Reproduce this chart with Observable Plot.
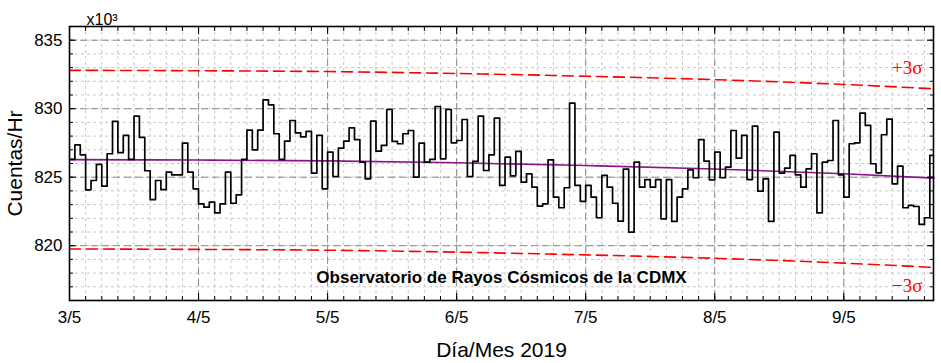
<!DOCTYPE html>
<html><head><meta charset="utf-8">
<script src="https://cdn.jsdelivr.net/npm/d3@7"></script>
<script src="https://cdn.jsdelivr.net/npm/@observablehq/plot@0.6"></script>
<style>html,body{margin:0;padding:0;background:#fff;} #chart svg{display:block}</style>
</head><body><div id="chart"></div>
<script>
// ---- data ----
const startDate = "2019-05-03T00:00Z";
const endDate = "2019-05-09T16:41Z";
// hourly counts (x10^3 / hr)
const counts = [
826.3,827.36,826.63,824.08,824.76,825.93,824.35,826.71,829.07,826.8,
828.05,826.3,829.46,827.9,825.47,823.37,824.76,824.1,825.37,825.17,
825.17,827.49,825.37,824.15,823.06,822.81,823.18,822.4,823.06,825.37,
823.1,823.71,826.3,828.43,827.0,828.43,830.65,830.28,828.17,826.3,
827.63,829.14,828.24,827.95,828.34,825.3,828.05,824.15,826.83,825.05,
827.12,827.63,828.6,827.75,826.1,824.88,829.09,826.9,827.32,829.94,
827.61,827.44,828.17,828.41,825.0,827.49,826.1,826.3,830.16,826.34,
829.94,827.51,827.68,829.21,825.05,826.15,829.46,825.49,826.63,829.31,
824.4,826.46,825.1,826.88,824.64,825.25,824.27,822.89,823.06,826.27,
823.54,822.77,824.23,830.41,824.4,823.23,824.4,823.54,822.04,825.13,
824.27,823.1,821.79,825.59,820.99,826.1,824.27,824.83,824.27,824.83,
821.96,824.83,821.77,823.54,824.15,825.54,824.96,827.75,826.17,824.81,
826.83,824.96,825.73,828.41,826.39,828.05,824.83,828.73,823.98,824.88,
821.77,828.29,825.3,825.66,826.59,825.17,824.27,825.61,826.71,822.4,
826.1,826.22,829.14,825.17,823.54,827.44,827.51,829.68,828.78,825.98,
825.32,828.1,829.24,824.52,825.81,822.77,822.94,822.86,821.55,822.04,
826.59
];
const trendDays   = [0, 1, 2, 3, 4, 5, 6, 6.7];
const trendValues = [826.28, 826.25, 826.19, 826.05, 825.85, 825.6, 825.25, 824.93];
const upperValues = [832.8, 832.77, 832.71, 832.57, 832.37, 832.12, 831.77, 831.45];
const lowerValues = [819.76, 819.73, 819.67, 819.53, 819.33, 819.08, 818.73, 818.41];
const dayTickLabels = ["3/5","4/5","5/5","6/5","7/5","8/5","9/5"];
const yMajorTicks = [820, 825, 830, 835];
const yDomain = [816, 836];
const titleText = "Observatorio de Rayos Cósmicos de la CDMX";
const yLabel = "Cuentas/Hr";
const xLabel = "Día/Mes 2019";
const scaleNote = "x10³";
const sigmaLabels = ["+3σ", "−3σ"];

// ---- build tables ----
const HOUR = 3600e3, DAY = 24 * HOUR;
const t0 = new Date(startDate), t1 = new Date(endDate);
const series = counts.map((v, i) => ({t: new Date(+t0 + i * HOUR), v}));
series.push({t: new Date(+t0 + counts.length * HOUR), v: counts[counts.length - 1]});
const trend = trendDays.map((d, i) => ({t: new Date(+t0 + d * DAY), m: trendValues[i], up: upperValues[i], lo: lowerValues[i]}));
const majorX = dayTickLabels.map((_, i) => new Date(+t0 + i * DAY));
const minorX = d3.utcHour.every(3).range(t0, t1);
const minorY = d3.range(yDomain[0], yDomain[1] + 1);
const fmtX = d => dayTickLabels[Math.round((d - t0) / DAY)];

const minorGrid = {stroke: "#c8c8c8", strokeOpacity: 1, strokeDasharray: "3,3", strokeWidth: 1};
const majorGrid = {stroke: "#8a8a8a", strokeOpacity: 1, strokeDasharray: "7,4", strokeWidth: 1};
const serif = "'Liberation Serif', 'Times New Roman', serif";

const chart = Plot.plot({
  width: 941, height: 363,
  marginLeft: 69, marginRight: 8, marginTop: 26, marginBottom: 63,
  style: {fontFamily: "'Liberation Sans', Arial, sans-serif", fontSize: "17px", color: "black", background: "white"},
  x: {type: "utc", domain: [t0, t1], label: null},
  y: {domain: yDomain, label: null},
  marks: [
    Plot.gridX(minorX, minorGrid),
    Plot.gridY(minorY, minorGrid),
    Plot.gridX(majorX, majorGrid),
    Plot.gridY(yMajorTicks, majorGrid),
    Plot.line(trend, {x: "t", y: "up", stroke: "#ff0000", strokeWidth: 1.6, strokeDasharray: "11,6", curve: "monotone-x"}),
    Plot.line(trend, {x: "t", y: "lo", stroke: "#ff0000", strokeWidth: 1.6, strokeDasharray: "11,6", curve: "monotone-x"}),
    Plot.line(trend, {x: "t", y: "m", stroke: "#8b128b", strokeWidth: 1.6, curve: "monotone-x"}),
    Plot.line(series, {x: "t", y: "v", stroke: "black", strokeWidth: 1.7, curve: "step-after", clip: true}),
    // ticks (inward)
    Plot.axisX(minorX, {anchor: "bottom", tickSize: -4, text: null, label: null}),
    Plot.axisX(majorX, {anchor: "bottom", tickSize: -7, text: null, label: null}),
    Plot.axisX(minorX, {anchor: "top", tickSize: -4, text: null, label: null}),
    Plot.axisX(majorX, {anchor: "top", tickSize: -7, text: null, label: null}),
    Plot.axisY(minorY, {anchor: "left", tickSize: -4, text: null, label: null}),
    Plot.axisY(yMajorTicks, {anchor: "left", tickSize: -7, text: null, label: null}),
    Plot.axisY(minorY, {anchor: "right", tickSize: -4, text: null, label: null}),
    Plot.axisY(yMajorTicks, {anchor: "right", tickSize: -7, text: null, label: null}),
    // tick labels
    Plot.axisX(majorX, {anchor: "bottom", tickSize: 0, tickPadding: 10, tickFormat: fmtX, fontSize: 17, label: null}),
    Plot.axisY(yMajorTicks, {anchor: "left", tickSize: 0, tickPadding: 7, fontSize: 17, label: null}),
    Plot.frame({stroke: "black", strokeWidth: 1.6}),
    // texts
    Plot.text([yLabel], {frameAnchor: "left", textAnchor: "middle", lineAnchor: "middle", rotate: -90, dx: -54, fontSize: 21}),
    Plot.text([xLabel], {frameAnchor: "bottom", textAnchor: "middle", lineAnchor: "middle", dy: 50, fontSize: 21}),
    Plot.text([titleText], {frameAnchor: "bottom", textAnchor: "middle", lineAnchor: "middle", dy: -23, fontSize: 17, fontWeight: "bold"}),
    Plot.text([scaleNote], {frameAnchor: "top-left", textAnchor: "start", lineAnchor: "middle", dx: 17, dy: -7, fontSize: 16}),
    Plot.text([sigmaLabels[0]], {frameAnchor: "top-right", textAnchor: "end", lineAnchor: "middle", dx: -11, dy: 41.5, fontSize: 19, fill: "#ff0000", fontFamily: serif}),
    Plot.text([sigmaLabels[1]], {frameAnchor: "bottom-right", textAnchor: "end", lineAnchor: "middle", dx: -11, dy: -14.5, fontSize: 19, fill: "#ff0000", fontFamily: serif})
  ]
});
document.getElementById("chart").appendChild(chart);
</script>
</body></html>
